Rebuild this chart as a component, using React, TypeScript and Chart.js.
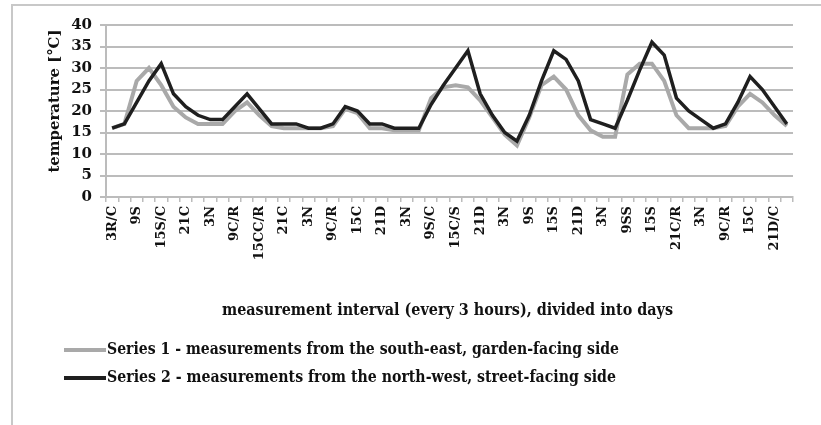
import React, { useEffect, useRef } from "react";
import { Chart, registerables } from "chart.js";

Chart.register(...registerables);

// 7 days x 8 measurements (every 3 hours); only the 3/9/15/21 labels are displayed
const categories = [
  "3R/C", "6", "9S", "12", "15S/C", "18", "21C", "24",
  "3N", "6", "9C/R", "12", "15CC/R", "18", "21C", "24",
  "3N", "6", "9C/R", "12", "15C", "18", "21D", "24",
  "3N", "6", "9S/C", "12", "15C/S", "18", "21D", "24",
  "3N", "6", "9S", "12", "15S", "18", "21D", "24",
  "3N", "6", "9SS", "12", "15S", "18", "21C/R", "24",
  "3N", "6", "9C/R", "12", "15C", "18", "21D/C", "24",
];

const series1 = [
  16, 17, 27, 30, 26, 21, 18.5, 17,
  17, 17, 20, 22, 19, 16.5, 16, 16,
  16, 16, 16.5, 20.5, 19.5, 16, 16, 15.5,
  15.5, 15.5, 23, 25.5, 26, 25.5, 22.5, 18.5,
  14.5, 12, 18.5, 26, 28, 25, 19, 15.5,
  14, 14, 28.5, 31, 31, 27, 19, 16,
  16, 16, 16.5, 21, 24, 22, 19, 16.5,
];

const series2 = [
  16, 17, 22, 27, 31, 24, 21, 19,
  18, 18, 21, 24, 20.5, 17, 17, 17,
  16, 16, 17, 21, 20, 17, 17, 16,
  16, 16, 21.5, 26, 30, 34, 24, 19,
  15, 13, 19, 27, 34, 32, 27, 18,
  17, 16, 22.5, 29.5, 36, 33, 23, 20,
  18, 16, 17, 22, 28, 25, 21, 17,
];

const seriesNames = [
  "Series 1 - measurements from the south-east, garden-facing side",
  "Series 2 - measurements from the north-west, street-facing side",
];
const seriesColors = ["#a9a9a9", "#1f1f1f"];

const yAxisTitle = "temperature [°C]";
const xAxisTitle = "measurement interval (every 3 hours), divided into days";

const FONT = '"DejaVu Serif", serif';
const GRID = "#bcbcbc";

const decorPlugin = {
  id: "decor",
  afterDraw(chart: any) {
    const ctx = chart.ctx as CanvasRenderingContext2D;
    const area = chart.chartArea;
    ctx.save();
    ctx.fillStyle = "#111";
    // y title
    ctx.save();
    ctx.translate(55, 101);
    ctx.rotate(-Math.PI / 2);
    ctx.font = `bold 15px ${FONT}`;
    ctx.textAlign = "center";
    ctx.textBaseline = "middle";
    ctx.fillText(yAxisTitle, 0, 0, 143);
    ctx.restore();
    // x title
    ctx.font = `bold 16px ${FONT}`;
    ctx.textAlign = "center";
    ctx.textBaseline = "middle";
    ctx.fillText(xAxisTitle, (area.left + area.right) / 2 - 2, 311, 451);
    // legend
    const rows = [350, 378];
    chart.data.datasets.forEach((ds: any, i: number) => {
      const y = rows[i];
      ctx.strokeStyle = ds.borderColor;
      ctx.lineWidth = 4;
      ctx.beginPath();
      ctx.moveTo(64, y);
      ctx.lineTo(106, y);
      ctx.stroke();
      ctx.font = `bold 16px ${FONT}`;
      ctx.textAlign = "left";
      ctx.textBaseline = "middle";
      ctx.fillStyle = "#111";
      ctx.fillText(ds.label, 107, y, i === 0 ? 512 : 509);
    });
    ctx.restore();
  },
};

export default function App() {
  const ref = useRef<HTMLCanvasElement | null>(null);

  useEffect(() => {
    if (!ref.current) return;
    const chart = new Chart(ref.current, {
      type: "line",
      data: {
        labels: categories,
        datasets: [
          {
            label: seriesNames[0],
            data: series1,
            borderColor: seriesColors[0],
            backgroundColor: seriesColors[0],
            borderWidth: 4,
            pointRadius: 0,
            tension: 0,
            order: 1,
          },
          {
            label: seriesNames[1],
            data: series2,
            borderColor: seriesColors[1],
            backgroundColor: seriesColors[1],
            borderWidth: 3.5,
            pointRadius: 0,
            tension: 0,
            order: 0,
          },
        ],
      },
      options: {
        responsive: false,
        devicePixelRatio: 1,
        animation: false,
        layout: { padding: { left: 0, right: 28, top: 25, bottom: 128 } },
        plugins: {
          legend: { display: false },
          tooltip: { enabled: false },
        },
        scales: {
          x: {
            type: "category",
            offset: true,
            afterFit: (s: any) => {
              s.height = 100;
            },
            grid: {
              display: true,
              offset: true,
              drawOnChartArea: false,
              drawTicks: true,
              tickLength: 5,
              color: GRID,
              lineWidth: 1.5,
            },
            border: { display: true, color: GRID, width: 2 },
            ticks: {
              autoSkip: false,
              minRotation: 90,
              maxRotation: 90,
              padding: 4,
              color: "#111",
              font: { family: FONT, weight: "bold", size: 13 },
              callback: (_v: any, i: number) => (i % 2 === 0 ? categories[i] : ""),
            },
          },
          y: {
            min: 0,
            max: 40,
            afterFit: (s: any) => {
              s.width = 106;
            },
            grid: {
              color: GRID,
              lineWidth: 2,
              drawTicks: true,
              tickLength: 6,
            },
            border: { display: true, color: GRID, width: 2 },
            ticks: {
              stepSize: 5,
              padding: 8,
              color: "#111",
              font: { family: FONT, weight: "bold", size: 15 },
            },
          },
        },
      },
      plugins: [decorPlugin],
    } as any);
    return () => chart.destroy();
  }, []);

  return (
    <div
      style={{
        position: "fixed",
        left: 0,
        top: 0,
        width: 821,
        height: 425,
        overflow: "hidden",
        background: "#fff",
      }}
    >
      <div
        style={{
          position: "absolute",
          left: 11,
          top: 4,
          width: 840,
          height: 460,
          border: "2px solid #c8c8c8",
        }}
      />
      <canvas
        ref={ref}
        width={821}
        height={425}
        style={{ position: "absolute", left: 0, top: 0, display: "block" }}
      />
    </div>
  );
}
